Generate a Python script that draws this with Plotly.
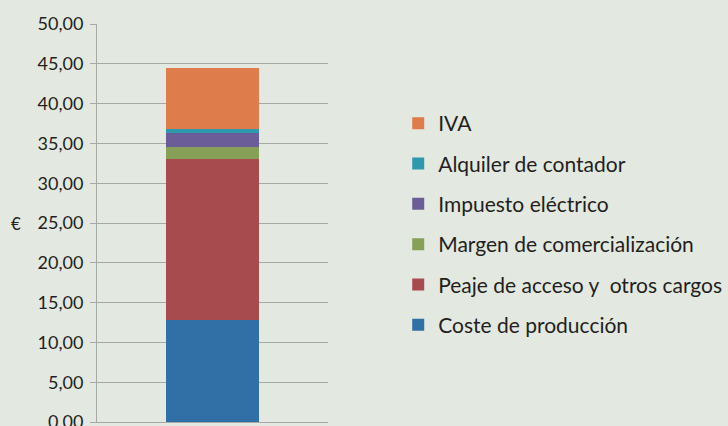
import plotly.graph_objects as go

categories = [""]
series_names = ["Coste de producción", "Peaje de acceso y  otros cargos",
                "Margen de comercialización", "Impuesto eléctrico",
                "Alquiler de contador", "IVA"]
series_values = [[12.83], [20.16], [1.50], [1.77], [0.50], [7.70]]
series_colors = ["#3070A6", "#A84B4F", "#86A058", "#6B5E98", "#2E98AD", "#DE7C4C"]
tick_vals = [0, 5, 10, 15, 20, 25, 30, 35, 40, 45, 50]
tick_text = ["0,00", "5,00", "10,00", "15,00", "20,00", "25,00", "30,00",
             "35,00", "40,00", "45,00", "50,00"]
axis_title = "€"

bg = "#E3E8E0"
grid = "#A6A9A6"
font_family = "Lato, 'Open Sans', sans-serif"
text_color = "#231F20"

fig = go.Figure()
n = len(series_names)
for i, (name, vals, col) in enumerate(zip(series_names, series_values, series_colors)):
    fig.add_trace(go.Bar(x=categories, y=vals, name=name, marker_color=col,
                         marker_line_width=0, legendgroup=name,
                         legendrank=n - i))

fig.add_annotation(text=axis_title, xref="paper", yref="y", x=(16 - 97) / 231, y=25,
                   showarrow=False, xanchor="center", yanchor="middle",
                   font=dict(size=17, family=font_family, color=text_color))

fig.update_layout(
    barmode="stack",
    bargap=0.6,
    width=728, height=426,
    paper_bgcolor=bg, plot_bgcolor=bg,
    margin=dict(l=97, r=400, t=24, b=4, autoexpand=False),
    font=dict(family=font_family, color=text_color, size=17),
    showlegend=True,
    legend=dict(
        traceorder="grouped",
        xref="container", yref="container",
        x=0.547, y=0.474, xanchor="left", yanchor="middle",
        font=dict(size=21, family=font_family, color=text_color),
        tracegroupgap=10,
        maxheight=420,
        bgcolor="rgba(0,0,0,0)",
    ),
    xaxis=dict(showticklabels=False, showgrid=False, zeroline=False,
               showline=True, linecolor=grid, linewidth=1, layer="below traces",
               ticks="", automargin=False),
    yaxis=dict(range=[0, 50], tickvals=tick_vals, ticktext=tick_text,
               showgrid=True, gridcolor=grid, gridwidth=1,
               zeroline=False, showline=True, linecolor=grid, linewidth=1,
               ticks="outside", ticklen=6, tickcolor=grid, automargin=False,
               ticklabelstandoff=3, ticklabeloverflow="allow",
               tickfont=dict(size=18, family=font_family, color=text_color)),
)

fig.write_html("out.html", config={"displayModeBar": False},
               post_script="document.body.style.margin='0';document.body.style.background='#E3E8E0';")
